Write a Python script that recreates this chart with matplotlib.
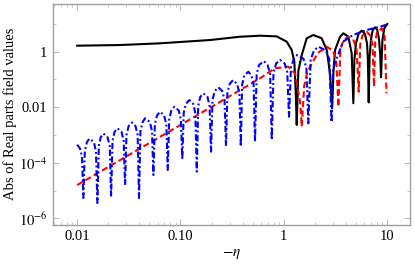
import matplotlib.pyplot as plt
from matplotlib.ticker import FixedLocator, LogLocator, NullFormatter

plt.rcParams['font.family'] = ['Liberation Serif', 'DejaVu Serif']
plt.rcParams['mathtext.fontset'] = 'stix'

# values (x = -eta, y = |Re field|)
black_x = [0.01, 0.026, 0.0635, 0.1935, 0.377, 0.59, 0.855, 1.07, 1.195, 1.267, 1.306, 1.336,
           1.384, 1.494, 1.67, 1.935, 2.33, 2.61, 2.805, 2.94,
           3.034, 3.14, 3.51, 3.78, 4.22, 4.55, 4.72,
           4.83, 5.01, 5.31, 5.69, 6.1, 6.4, 6.53, 6.65,
           6.78, 7.0, 7.28, 7.66, 8.04, 8.36, 8.59, 8.75,
           9.02, 9.44, 10.07]
black_y = [1.62, 1.71, 1.97, 2.59, 3.4, 3.7, 3.5, 2.25, 1.13, 0.43, 0.036, 0.0023,
           0.2, 0.75, 2.99, 3.93, 2.99, 1.13, 0.164, 0.0091,
           0.2, 1.13, 3.4, 4.52, 3.4, 0.86, 0.0138,
           0.5, 2.0, 4.37, 5.6, 4.37, 2.0, 0.5, 0.0148,
           0.63, 2.82, 6.03, 7.43, 6.03, 2.82, 0.79, 0.118,
           2.5, 7.08, 9.75]

red_x = [0.01, 0.243, 0.59, 0.82, 1.108, 1.286, 1.438, 1.494,
         1.58, 1.68, 1.80, 2.138, 2.61, 3.02, 3.236, 3.38,
         3.54, 3.785, 4.22, 4.75, 5.08, 5.32,
         5.51, 5.79, 6.35, 6.87, 7.23, 7.48,
         7.69, 8.02, 8.89, 9.48, 9.89]
red_y = [1.58e-5, 0.0156, 0.109, 0.25, 0.284, 0.165, 0.0156, 0.002,
         0.06, 0.16, 0.284, 0.89, 1.49, 1.05, 0.398, 0.0103,
         1.2, 2.51, 3.4, 2.51, 1.2, 0.0358,
         1.82, 3.8, 5.15, 3.8, 1.82, 0.054,
         2.45, 5.0, 6.84, 3.55, 0.031]

blue_x = [0.0100, 0.01064, 0.01114, 0.01148,
          0.01186, 0.01242, 0.01312, 0.01452, 0.0152, 0.0157,
          0.0162, 0.0169, 0.01795, 0.0197, 0.0207, 0.0213,
          0.022, 0.023, 0.0245, 0.0269, 0.0282, 0.0291,
          0.030, 0.0315, 0.034, 0.0367, 0.0385, 0.0397,
          0.041, 0.0431, 0.0454, 0.0505, 0.053, 0.0547,
          0.0565, 0.0593, 0.0635, 0.0695, 0.073, 0.0753,
          0.0778, 0.0817, 0.0873, 0.0962, 0.1009, 0.1042,
          0.1076, 0.113, 0.122, 0.1327, 0.1393, 0.1439,
          0.1486, 0.1556, 0.1667, 0.1828, 0.1914, 0.1977,
          0.2042, 0.2148, 0.2328, 0.254, 0.2673, 0.276,
          0.285, 0.300, 0.323, 0.353, 0.372, 0.384,
          0.396, 0.415, 0.454, 0.488, 0.511, 0.527,
          0.547, 0.578, 0.644, 0.697, 0.738, 0.766,
          0.796, 0.844, 0.92, 1.021, 1.081, 1.125,
          1.175, 1.253, 1.346, 1.552, 1.656, 1.73,
          1.824, 1.968, 2.163, 2.553, 2.761, 2.904,
          3.006, 3.14, 3.75, 4.69, 6.35, 8.55, 10.0]
blue_y = [4.47e-4, 3.3e-4, 1.66e-4, 5.4e-6,
          2.63e-4, 5.5e-4, 7.4e-4, 5.5e-4, 2.63e-4, 3.55e-6,
          3.98e-4, 8.3e-4, 1.12e-3, 8.3e-4, 3.98e-4, 6.0e-6,
          6.2e-4, 1.29e-3, 1.74e-3, 1.29e-3, 6.2e-4, 1.58e-5,
          1.0e-3, 2.09e-3, 2.82e-3, 2.09e-3, 1.0e-3, 5.4e-6,
          1.41e-3, 2.95e-3, 3.98e-3, 2.95e-3, 1.41e-3, 3.63e-5,
          2.4e-3, 5.0e-3, 6.84e-3, 5.0e-3, 2.4e-3, 5.5e-5,
          3.63e-3, 7.6e-3, 1.03e-2, 7.6e-3, 3.63e-3, 1.32e-4,
          6.3e-3, 1.32e-2, 1.8e-2, 1.32e-2, 6.3e-3, 4.8e-5,
          1.12e-2, 2.34e-2, 3.13e-2, 2.34e-2, 1.12e-2, 2.51e-4,
          1.82e-2, 3.8e-2, 5.15e-2, 3.8e-2, 1.82e-2, 3.98e-4,
          3.31e-2, 6.9e-2, 9.4e-2, 6.9e-2, 3.31e-2, 3.8e-4,
          6.6e-2, 0.138, 0.1875, 0.138, 6.6e-2, 5.75e-4,
          0.16, 0.33, 0.45, 0.33, 0.16, 6.6e-4,
          0.18, 0.37, 0.5, 0.37, 0.18, 4.5e-3,
          0.263, 0.55, 0.748, 0.55, 0.263, 2.63e-3,
          0.525, 1.096, 1.49, 1.096, 0.525, 2.88e-3,
          0.251, 0.385, 2.25, 3.93, 5.93, 7.8, 9.33]

x_ticks = [0.01, 0.1, 1, 10]
x_tick_labels = ['0.01', '0.10', '1', '10']
y_ticks = [1e-6, 1e-4, 1e-2, 1]
y_tick_labels = ['$10^{-6}$', '$10^{-4}$', '0.01', '1']

fig = plt.figure(figsize=(4.15, 2.68), dpi=100)
ax = fig.add_axes([0.128, 0.162, 0.86, 0.823])

ax.plot(black_x, black_y, color='black', lw=1.5)
ax.plot(red_x, red_y, color='red', lw=1.5, dashes=(3, 1.6))
ax.plot(blue_x, blue_y, color='blue', lw=1.5, dashes=(3, 1.3, 0.9, 1.3))

ax.set_xscale('log')
ax.set_yscale('log')
ax.set_xlim(0.00585, 16.7)
ax.set_ylim(6.0e-7, 51)

ax.xaxis.set_major_locator(FixedLocator(x_ticks))
ax.set_xticklabels(x_tick_labels)
ax.xaxis.set_minor_locator(LogLocator(base=10, subs=range(2, 10)))
ax.xaxis.set_minor_formatter(NullFormatter())
ax.yaxis.set_major_locator(FixedLocator(y_ticks))
ax.set_yticklabels(y_tick_labels)
ax.yaxis.set_minor_locator(FixedLocator([1e-5, 1e-3, 0.1, 10]))
ax.yaxis.set_minor_formatter(NullFormatter())

for s in ax.spines.values():
    s.set_color('#a0a0a0')
    s.set_linewidth(1.0)
ax.tick_params(which='both', direction='in', top=True, right=True,
               color='#b0b0b0', labelsize=10.5, labelcolor='black')
ax.tick_params(which='major', length=4, width=0.6, pad=4)
ax.tick_params(which='minor', length=2, width=0.5)

ax.set_xlabel(r'$-\eta$', fontsize=11, labelpad=3)
ax.set_ylabel('Abs of Real parts field values', fontsize=10.5, labelpad=1)

fig.savefig('out.png', dpi=100)
